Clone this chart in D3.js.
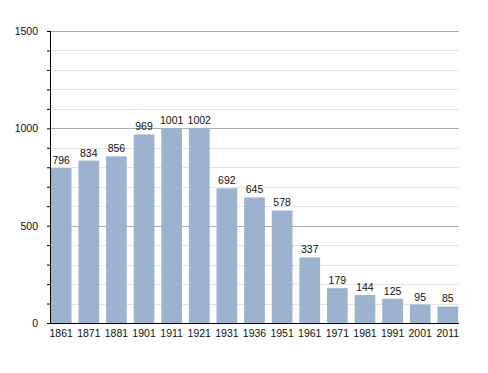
<!DOCTYPE html>
<html>
<head>
<meta charset="utf-8">
<script src="https://cdn.jsdelivr.net/npm/d3@7"></script>
<style>
  body { margin: 0; background: #fff; }
  text { font-family: "Liberation Sans", Arial, sans-serif; fill: #111; }
</style>
</head>
<body>
<script>
const years = ['1861', '1871', '1881', '1901', '1911', '1921', '1931', '1936', '1951', '1961', '1971', '1981', '1991', '2001', '2011'];
const population = [796, 834, 856, 969, 1001, 1002, 692, 645, 578, 337, 179, 144, 125, 95, 85];
const yTicks = [0, 500, 1000, 1500];

const width = 488;
const height = 373;
const margin = { top: 31, right: 29, bottom: 50, left: 50 };
const innerW = width - margin.left - margin.right;
const innerH = height - margin.top - margin.bottom;

const svg = d3.select('body')
  .append('svg')
  .attr('width', width)
  .attr('height', height)
  .append('g')
  .attr('transform', `translate(${margin.left},${margin.top})`);

const x = d3.scaleBand()
  .range([0, innerW])
  .domain(years)
  .paddingInner(0.25)
  .paddingOuter(0.03);

const y = d3.scaleLinear()
  .range([innerH, 0])
  .domain([0, 1500]);

// minor grid every 100
svg.append('g')
  .selectAll('line')
  .data(d3.range(100, 1500, 100).filter(v => v % 500 !== 0))
  .enter()
  .append('line')
  .attr('x1', 0)
  .attr('x2', innerW)
  .attr('y1', d => Math.round(y(d)) + 0.5)
  .attr('y2', d => Math.round(y(d)) + 0.5)
  .attr('stroke', '#e4e4e4');

// major grid
svg.append('g')
  .selectAll('line')
  .data(yTicks.slice(1))
  .enter()
  .append('line')
  .attr('x1', 0)
  .attr('x2', innerW)
  .attr('y1', d => Math.round(y(d)) + 0.5)
  .attr('y2', d => Math.round(y(d)) + 0.5)
  .attr('stroke', '#aaa');

// bars
svg.selectAll('.bar')
  .data(years)
  .enter()
  .append('rect')
  .attr('class', 'bar')
  .attr('x', d => x(d))
  .attr('y', (d, i) => y(population[i]))
  .attr('width', x.bandwidth())
  .attr('height', (d, i) => innerH - y(population[i]))
  .attr('fill', '#9bb3cf');

// value labels
svg.selectAll('.val')
  .data(years)
  .enter()
  .append('text')
  .attr('class', 'val')
  .attr('x', d => x(d) + x.bandwidth() / 2)
  .attr('y', (d, i) => y(population[i]) - 4)
  .attr('text-anchor', 'middle')
  .attr('font-size', 10.5)
  .text((d, i) => population[i]);

// y axis
const yAxis = svg.append('g')
  .call(d3.axisLeft(y).tickValues(d3.range(0, 1501, 100)).tickSize(3).tickFormat(d => yTicks.includes(d) ? d : ''));
yAxis.select('.domain').attr('stroke', '#000').attr('d', `M0.5,0V${innerH}`);
yAxis.selectAll('.tick line').attr('stroke', '#000');
yAxis.selectAll('.tick text').attr('font-size', 10.5).attr('font-family', null).attr('x', -12);

// x axis
const xAxis = svg.append('g')
  .attr('transform', `translate(0,${innerH})`)
  .call(d3.axisBottom(x).tickSize(0).tickPadding(7));
xAxis.select('.domain').attr('stroke', '#000').attr('d', `M0,0.5H${innerW}`);
xAxis.selectAll('.tick text').attr('font-size', 10.5).attr('font-family', null);
</script>
</body>
</html>
